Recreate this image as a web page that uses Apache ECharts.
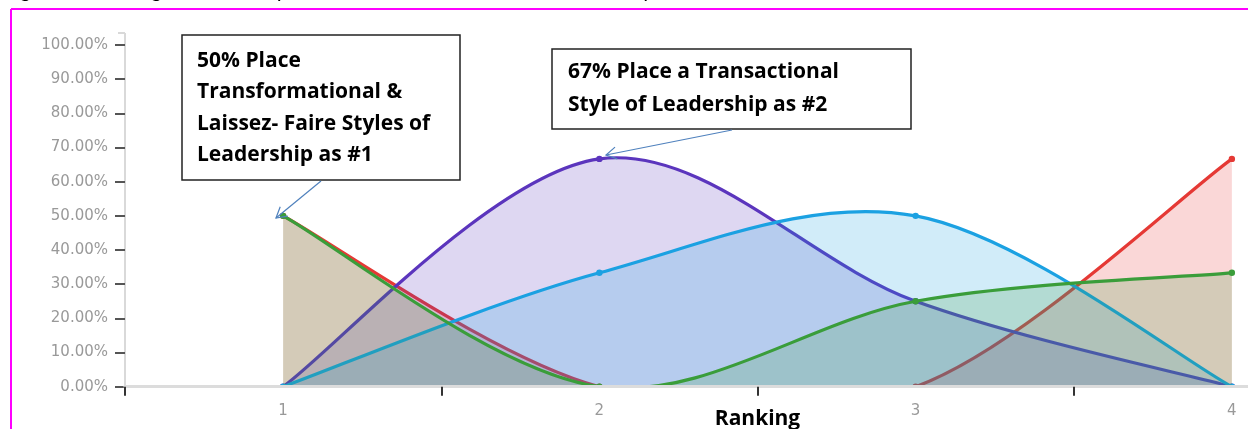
<!DOCTYPE html>
<html>
<head>
<meta charset="utf-8">
<script src="https://cdn.jsdelivr.net/npm/echarts@6/dist/echarts.min.js"></script>
<style>
  html, body { margin: 0; padding: 0; background: #fff; }
  #chart { width: 1248px; height: 429px; }
</style>
</head>
<body>
<div id="chart"></div>
<script>
// ranking categories and share of respondents (%) per leadership style
var rankings = ['1', '2', '3', '4'];
var redStyle = [50, 0, 0, 66.67];
var greenStyle = [50, 0, 25, 33.33];
var purpleStyle = [0, 66.67, 25, 0];
var blueStyle = [0, 33.33, 50, 0];

var chart = echarts.init(document.getElementById('chart'));

// catmull-rom spline through pixel points, as svg path data
function splinePath(pts) {
  var d = 'M' + pts[0][0] + ' ' + pts[0][1];
  for (var i = 0; i < pts.length - 1; i++) {
    var p0 = pts[i - 1] || pts[i], p1 = pts[i], p2 = pts[i + 1], p3 = pts[i + 2] || pts[i + 1];
    var c1x = p1[0] + (p2[0] - p0[0]) / 6, c1y = p1[1] + (p2[1] - p0[1]) / 6;
    var c2x = p2[0] - (p3[0] - p1[0]) / 6, c2y = p2[1] - (p3[1] - p1[1]) / 6;
    d += ' C' + c1x + ' ' + c1y + ' ' + c2x + ' ' + c2y + ' ' + p2[0] + ' ' + p2[1];
  }
  return d;
}

function splineSeries(name, values, color) {
  return {
    name: name,
    type: 'custom',
    clip: true,
    data: values.map(function (v, i) { return [i, v]; }),
    renderItem: function (params, api) {
      if (params.dataIndex !== 0) return null;
      var pts = values.map(function (v, i) { return api.coord([i, v]); });
      var base = api.coord([0, 0])[1];
      var line = splinePath(pts);
      var last = pts[pts.length - 1];
      var area = line + ' L' + last[0] + ' ' + base + ' L' + pts[0][0] + ' ' + base + ' Z';
      var children = [
        { type: 'path', shape: { pathData: area }, style: { fill: color, opacity: 0.2 } },
        { type: 'path', shape: { pathData: line }, style: { fill: null, stroke: color, lineWidth: 3.2 } }
      ];
      pts.forEach(function (p) {
        children.push({ type: 'circle', shape: { cx: p[0], cy: p[1], r: 3.2 }, style: { fill: color } });
      });
      return { type: 'group', children: children };
    }
  };
}

// open arrow head drawn at the tip of a callout line
function arrow(x1, y1, x2, y2) {
  var dx = x1 - x2, dy = y1 - y2;
  var len = Math.sqrt(dx * dx + dy * dy);
  dx /= len; dy /= len;
  var a = Math.PI / 6, s = 12;
  var w1 = [x2 + s * (dx * Math.cos(a) - dy * Math.sin(a)), y2 + s * (dx * Math.sin(a) + dy * Math.cos(a))];
  var w2 = [x2 + s * (dx * Math.cos(-a) - dy * Math.sin(-a)), y2 + s * (dx * Math.sin(-a) + dy * Math.cos(-a))];
  var st = { stroke: '#4f81bd', lineWidth: 1.2, fill: null };
  return [
    { type: 'line', z: 100, shape: { x1: x1, y1: y1, x2: x2, y2: y2 }, style: st },
    { type: 'polyline', z: 100, shape: { points: [w1, [x2, y2], w2] }, style: st }
  ];
}

var boxFont = 'bold 21px "Open Sans"';

var graphics = [
  // page frame and clipped caption
  { type: 'line', shape: { x1: 11, y1: 9, x2: 1248, y2: 9 }, style: { stroke: '#ff00ff', lineWidth: 2 } },
  { type: 'line', shape: { x1: 11, y1: 9, x2: 11, y2: 429 }, style: { stroke: '#ff00ff', lineWidth: 2 } },
  { type: 'text', x: 5, y: 1, style: { text: 'Figure 2: Ranking of Leadership Preference (Question 10) of All Units by Years', font: 'italic 22px Lato', fill: '#000', verticalAlign: 'bottom' } },
  // y axis line (runs past the plot top and below zero)
  { type: 'line', shape: { x1: 125, y1: 33, x2: 125, y2: 395 }, style: { stroke: '#d9d9d9', lineWidth: 2 } },
  { type: 'line', shape: { x1: 118, y1: 33, x2: 125, y2: 33 }, style: { stroke: '#d9d9d9', lineWidth: 2 } },
  // callout boxes
  { type: 'rect', z: 100, shape: { x: 182, y: 35, width: 278, height: 145 }, style: { fill: '#fff', stroke: '#222', lineWidth: 1.5 } },
  { type: 'text', z: 101, x: 197, y: 45, style: { text: '50% Place\nTransformational &\nLaissez- Faire Styles of\nLeadership as #1', font: boxFont, lineHeight: 31.5, fill: '#000' } },
  { type: 'rect', z: 100, shape: { x: 552, y: 49, width: 359, height: 80 }, style: { fill: '#fff', stroke: '#222', lineWidth: 1.5 } },
  { type: 'text', z: 101, x: 568, y: 56, style: { text: '67% Place a Transactional\nStyle of Leadership as #2', font: boxFont, lineHeight: 33, fill: '#000' } }
].concat(arrow(321, 181, 276, 218)).concat(arrow(732, 130, 606, 155));

var option = {
  animation: false,
  backgroundColor: '#fff',
  grid: { left: 125, top: 45, width: 1265, height: 341.7, outerBoundsMode: 'none', containLabel: false },
  xAxis: {
    type: 'category',
    data: rankings,
    boundaryGap: true,
    z: 5,
    name: 'Ranking',
    nameLocation: 'middle',
    nameGap: 22,
    nameMoveOverlap: false,
    nameTextStyle: { fontFamily: 'Open Sans', fontWeight: 'bold', fontSize: 21, color: '#000' },
    axisLine: { lineStyle: { color: '#dcdcdc', width: 3 } },
    axisTick: { show: true, length: 9, lineStyle: { color: '#333', width: 2 } },
    axisLabel: { margin: 17, fontFamily: 'DejaVu Sans', fontSize: 15, color: '#999' },
    splitLine: { show: false }
  },
  yAxis: {
    type: 'value',
    min: 0,
    max: 100,
    interval: 10,
    axisLine: { show: false },
    axisTick: { show: true, length: 10, lineStyle: { color: '#555', width: 2 } },
    axisLabel: {
      margin: 17,
      fontFamily: 'DejaVu Sans',
      fontSize: 15,
      color: '#999',
      formatter: function (v) { return v.toFixed(2) + '%'; }
    },
    splitLine: { show: false }
  },
  series: [
    splineSeries('Style A', redStyle, '#e53935'),
    splineSeries('Style B', purpleStyle, '#5b35bd'),
    splineSeries('Style C', blueStyle, '#1ba1e2'),
    splineSeries('Style D', greenStyle, '#3a9d3a')
  ],
  graphic: graphics
};

chart.setOption(option);
</script>
</body>
</html>
